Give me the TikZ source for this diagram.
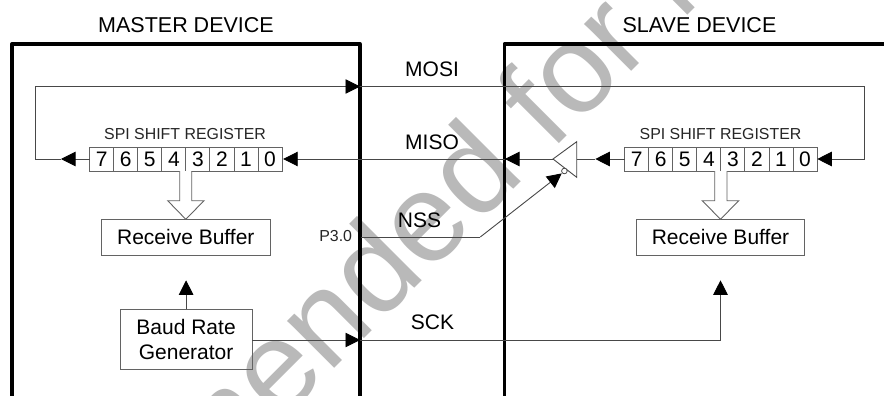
\documentclass[tikz,border=0pt]{standalone}
\usepackage{fontspec}
\setmainfont{Liberation Sans}
\usetikzlibrary{arrows.meta}
\definecolor{wm}{HTML}{B9B9B9}
\definecolor{ln}{HTML}{484848}
\tikzset{
  wire/.style={draw=ln,line width=0.9pt},
  tri/.style={wire,-{Triangle[length=14.5pt,width=14.5pt,fill=black,color=black]}},
  dev/.style={draw=black,line width=3.3pt,line join=round},
  bx/.style={draw=ln!85,line width=0.9pt,inner sep=0pt,outer sep=0pt,align=center},
  cell/.style={bx,minimum width=24.05pt,minimum height=24pt,font=\fontsize{21}{24}\selectfont},
  lbl/.style={inner sep=0pt,outer sep=0pt,anchor=base,text=black,font=\fontsize{21}{24}\selectfont},
  title/.style={lbl,font=\fontsize{21.5}{24}\selectfont},
  small/.style={lbl,text=black!85,font=\fontsize{15.9}{18}\selectfont},
  hollow/.style={draw=ln!85,line width=0.9pt,line join=miter,fill=white}
}
\begin{document}
\begin{tikzpicture}[x=1pt,y=-1pt]
\useasboundingbox (0,0) rectangle (884,396);
\clip (0,0) rectangle (884,396);
\fill[white] (0,0) rectangle (884,396);
% watermark
\node[inner sep=0pt,outer sep=0pt,anchor=base west,rotate=45,text=wm,font=\fontsize{126}{130}\selectfont] (wmark) at (205,498) {mended for N};
% device outlines
\coordinate (mbl) at (12,398); \coordinate (mtl) at (12,44); \coordinate (mtr) at (360,44); \coordinate (mbr) at (360,398);
\coordinate (sbl) at (504.3,398); \coordinate (stl) at (504.3,44); \coordinate (str) at (886,44);
\draw[dev] (mbl) -- (mtl) -- (mtr) -- (mbr);
\draw[dev] (sbl) -- (stl) -- (str);
% titles
\node[title] (mtitle) at (186,33) {MASTER DEVICE};
\node[title] (stitle) at (699.5,33) {SLAVE DEVICE};
\node[lbl] (mosi) at (432,77) {MOSI};
\node[lbl] (miso) at (432,149) {MISO};
\node[lbl] (nss) at (419.5,227) {NSS};
\node[lbl] (sck) at (432.5,329) {SCK};
\node[small] (p30) at (335.7,241.7) {P3.0};
\node[small] (mreg) at (185,139.3) {SPI SHIFT REGISTER};
\node[small] (sreg) at (720.5,139.3) {SPI SHIFT REGISTER};
% registers
\foreach \d [count=\i from 0] in {7,6,5,4,3,2,1,0}{
  \node[cell] (m\d) at ({101.7+24.05*\i},159) {\d};
  \node[cell] (s\d) at ({636.7+24.05*\i},159) {\d};
}
% boxes
\node[bx,minimum width=169pt,minimum height=36pt,font=\fontsize{21}{25}\selectfont] (mbuf) at (185.8,237.3) {Receive Buffer};
\node[bx,minimum width=168.4pt,minimum height=36pt,font=\fontsize{21}{25}\selectfont] (sbuf) at (720.5,237.3) {Receive Buffer};
\node[bx,minimum width=132.3pt,minimum height=60pt,font=\fontsize{21}{25}\selectfont] (baud) at (186.1,339.3) {Baud Rate\\Generator};
% hollow arrows
\draw[hollow] (179.7,171) -- (179.7,200.7) -- (167.7,200.7) -- (mbuf.north) -- (204,200.7) -- (191.7,200.7) -- (191.7,171);
\draw[hollow] (714.7,171) -- (714.7,200.7) -- (702.3,200.7) -- (sbuf.north) -- (738.7,200.7) -- (727,200.7) -- (727,171);
% tri-state buffer
\coordinate (btip) at (553,159); \coordinate (btop) at (576.7,141.7); \coordinate (bbot) at (576.7,177.3);
\coordinate (bin) at (576.7,159);
\draw[wire,line join=miter] (btip) -- (btop) -- (bbot) -- cycle;
\node[circle,draw=ln,line width=0.8pt,fill=white,minimum size=5.6pt,inner sep=0pt,outer sep=0pt] (bub) at (564.4,171) {};
% connectors
\coordinate (mosiL) at (35.5,86.5); \coordinate (mosiTip) at (360,86.5); \coordinate (mosiR) at (864.7,86.5);
\coordinate (sIn) at (864.7,159); \coordinate (s0tip) at (817.3,159);
\coordinate (mOut) at (35.5,159); \coordinate (m7tip) at (61,159);
\coordinate (m0tip) at (283.2,159); \coordinate (misoTip) at (505,159); \coordinate (btail) at (595.3,159);
\coordinate (nssB) at (480.3,237); \coordinate (nssTip) at (561.7,173.4); \coordinate (nssL) at (361,237);
\coordinate (sckTip) at (360,340); \coordinate (sckC) at (720.5,340); \coordinate (sckEnd) at (720.5,280.3);
\coordinate (baudTip) at (186.1,280.3);
\draw[wire] (m7tip) -- (mOut) -- (mosiL) -- (mosiTip);
\draw[tri] (mosiL) -- (mosiTip);
\draw[wire] (mosiTip) -- (mosiR) -- (sIn);
\draw[tri] (sIn) -- (s0tip);
\draw[tri] (m7.west) -- (m7tip);
\draw[tri] (misoTip) -- (m0tip);
\draw[tri] (btip) -- (misoTip);
\draw[wire] (bin) -- (btail);
\draw[tri] (s7.west) -- (btail);
\draw[wire] (nssL) -- (nssB);
\draw[tri] (nssB) -- (nssTip);
\draw[tri] (baud.north) -- (baudTip);
\draw[tri] (baud.east |- sckTip) -- (sckTip);
\draw[wire] (sckTip) -- (sckC);
\draw[tri] (sckC) -- (sckEnd);
\end{tikzpicture}
\end{document}
